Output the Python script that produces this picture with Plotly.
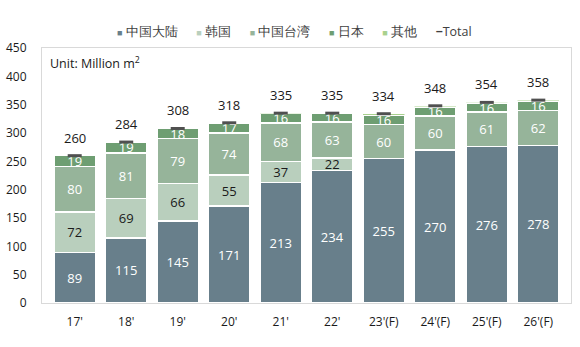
import plotly.graph_objects as go

categories = ["17'", "18'", "19'", "20'", "21'", "22'", "23'(F)", "24'(F)", "25'(F)", "26'(F)"]
mainland = [89, 115, 145, 171, 213, 234, 255, 270, 276, 278]
korea = [72, 69, 66, 55, 37, 22, 0, 0, 0, 0]
taiwan = [80, 81, 79, 74, 68, 63, 60, 60, 61, 62]
japan = [19, 19, 18, 17, 16, 16, 16, 16, 16, 16]
others = [0, 0, 0, 1, 1, 0, 3, 2, 1, 2]
total = [260, 284, 308, 318, 335, 335, 334, 348, 354, 358]

FONT = "Open Sans"

def labels(vals):
    return [str(v) if v > 0 else "" for v in vals]

series = [
    ("中国大陆", mainland, "#687f8b", "white"),
    ("韩国", korea, "#b9cfbd", "#1a1a1a"),
    ("中国台湾", taiwan, "#96b49a", "white"),
    ("日本", japan, "#6e9e72", "white"),
]

fig = go.Figure()
for name, vals, color, tcolor in series:
    fig.add_trace(go.Bar(
        x=categories, y=vals, name=name,
        marker=dict(color=color, line=dict(color="white", width=1.5)),
        text=labels(vals), textposition="inside", insidetextanchor="middle",
        textangle=0,
        textfont=dict(color=tcolor, size=13, family=FONT),
        constraintext="none", cliponaxis=False,
    ))
fig.add_trace(go.Bar(
    x=categories, y=others, name="其他",
    marker=dict(color="#a9d18e", line=dict(color="white", width=0.5)),
))
fig.add_trace(go.Scatter(
    x=categories, y=total, name="Total", mode="markers",
    marker=dict(symbol="line-ew", size=10, line=dict(color="#505050", width=3)),
    cliponaxis=False,
))

for c, t in zip(categories, total):
    fig.add_annotation(x=c, y=t, text=str(t), showarrow=False, yshift=18,
                       font=dict(size=13, color="#1a1a1a", family=FONT))

fig.add_annotation(xref="paper", yref="paper", x=0.012, y=0.94, xanchor="left", yanchor="middle",
                   text="Unit: Million m<sup>2</sup>", showarrow=False,
                   font=dict(size=12.5, color="#1a1a1a", family=FONT))

# legend drawn as one line of text above the plot
legend_items = [(s[0], s[2]) for s in series] + [("其他", "#a9d18e")]
parts = [f"<span style='color:{c};font-size:9px'>■</span>\u2005{n}" for n, c in legend_items]
parts.append("<span style='color:#404040'><b>−</b></span>Total")
fig.add_annotation(xref="paper", yref="paper", x=0.478, y=1.065, xanchor="center", yanchor="middle",
                   text="\u2003\u2002".join(parts), showarrow=False,
                   font=dict(size=12.5, color="#404040", family=FONT))

fig.update_layout(
    width=580, height=347,
    margin=dict(l=42, r=9, t=48, b=44, autoexpand=False),
    barmode="stack", bargap=0.19,
    plot_bgcolor="white", paper_bgcolor="white",
    font=dict(family=FONT, size=12, color="#404040"),
    uniformtext=dict(mode="show", minsize=13),
    showlegend=False,
    xaxis=dict(showline=True, mirror=True, linecolor="#d9d9d9", linewidth=1, automargin=False,
               tickfont=dict(size=12, color="#1a1a1a"), ticks="", showgrid=False,
               ticklabelstandoff=8),
    yaxis=dict(range=[0, 450], dtick=50, showline=True, mirror=True, linecolor="#d9d9d9",
               linewidth=1, showgrid=False, ticks="", zeroline=False, automargin=False,
               ticklabelstandoff=12,
               tickfont=dict(size=12, color="#1a1a1a")),
)

fig.write_html("out.html")
